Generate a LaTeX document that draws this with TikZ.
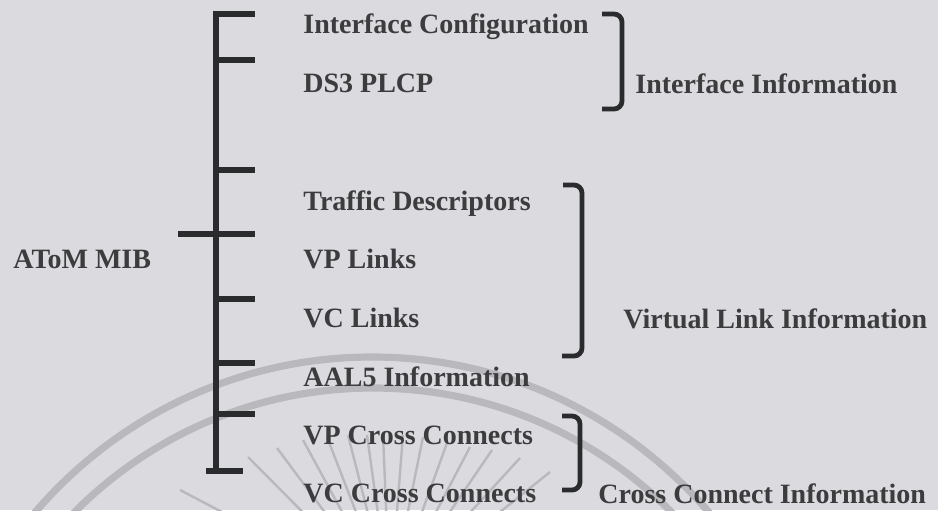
\documentclass[tikz,border=0pt]{standalone}
\usepackage{fontspec}
\setmainfont{Liberation Serif}
\definecolor{paper}{RGB}{219,219,223}
\definecolor{ink}{RGB}{60,60,62}
\definecolor{wire}{RGB}{42,43,45}
\definecolor{wmgray}{RGB}{184,184,189}

\begin{document}
\begin{tikzpicture}[
x=0.5pt, y=-0.5pt,
item/.style={anchor=base west, inner sep=0pt, text=ink, font=\fontsize{14}{16}\selectfont\bfseries},
bar/.style={draw=wire, line width=2.6pt},
brace/.style={draw=wire, line width=2.4pt, rounded corners=4pt},
arcband/.style={draw=wmgray, line width=3.6pt},
ray/.style={draw=wmgray, line width=1.2pt}
]

% paper
\fill[paper] (0,0) rectangle (938,510);

% watermark
\begin{scope}
\clip (0,0) rectangle (938,510);
\draw[arcband] (372,800) circle[radius=443];
\draw[arcband] (373,809) circle[radius=421];
\coordinate (hub) at (390,600);
\foreach \p in {(180,490),(248,457),(277,448),(303,440),(327,437),(348,435),(367,435),
  (383,435),(403,435),(423,437),(447,443),(470,447),(492,450),(520,458),(550,472)}
  \draw[ray] \p -- (hub);
\end{scope}

% tree
\coordinate (root) at (216,14);
\coordinate (foot) at (216,471);
\coordinate (r0) at (255,14);
\draw[bar] (r0) -- (root) -- (foot);
\foreach \y [count=\i] in {60,170,299,363,414} {
  \coordinate (s\i) at (216,\y);
  \coordinate (e\i) at (255,\y);
  \draw[bar] (s\i) -- (e\i);
}
\coordinate (xl) at (178,234);
\coordinate (xr) at (255,234);
\draw[bar] (xl) -- (xr);
\coordinate (fl) at (206,471);
\coordinate (fr) at (243,471);
\draw[bar] (fl) -- (fr);

% entries
\node[item] (cfg) at (303,33) {Interface Configuration};
\node[item] (plcp) at (303,92) {DS3 PLCP};
\node[item] (traf) at (303,210) {Traffic Descriptors};
\node[item] (vpl) at (303,268) {VP Links};
\node[item] (vcl) at (303,327) {VC Links};
\node[item] (aal) at (303,386) {AAL5 Information};
\node[item] (vpx) at (303,444) {VP Cross Connects};
\node[item] (vcx) at (303,502) {VC Cross Connects};
\node[item] (mib) at (13,268) {AToM MIB};

% brackets
\coordinate (ifa) at (602,14);
\coordinate (ifb) at (602,109);
\draw[brace] (ifa) -- ++(20,0) |- (ifb);
\coordinate (vla) at (563,185);
\coordinate (vlb) at (562,356);
\draw[brace] (vla) -- ++(19,0) |- (vlb);
\coordinate (cca) at (562,416);
\coordinate (ccb) at (562,490);
\draw[brace] (cca) -- ++(18,0) |- (ccb);

% groups
\node[item] (ifinfo) at (635,93) {Interface Information};
\node[item] (vlinfo) at (623,328) {Virtual Link Information};
\node[item] (ccinfo) at (598,503) {Cross Connect Information};

\end{tikzpicture}
\end{document}
